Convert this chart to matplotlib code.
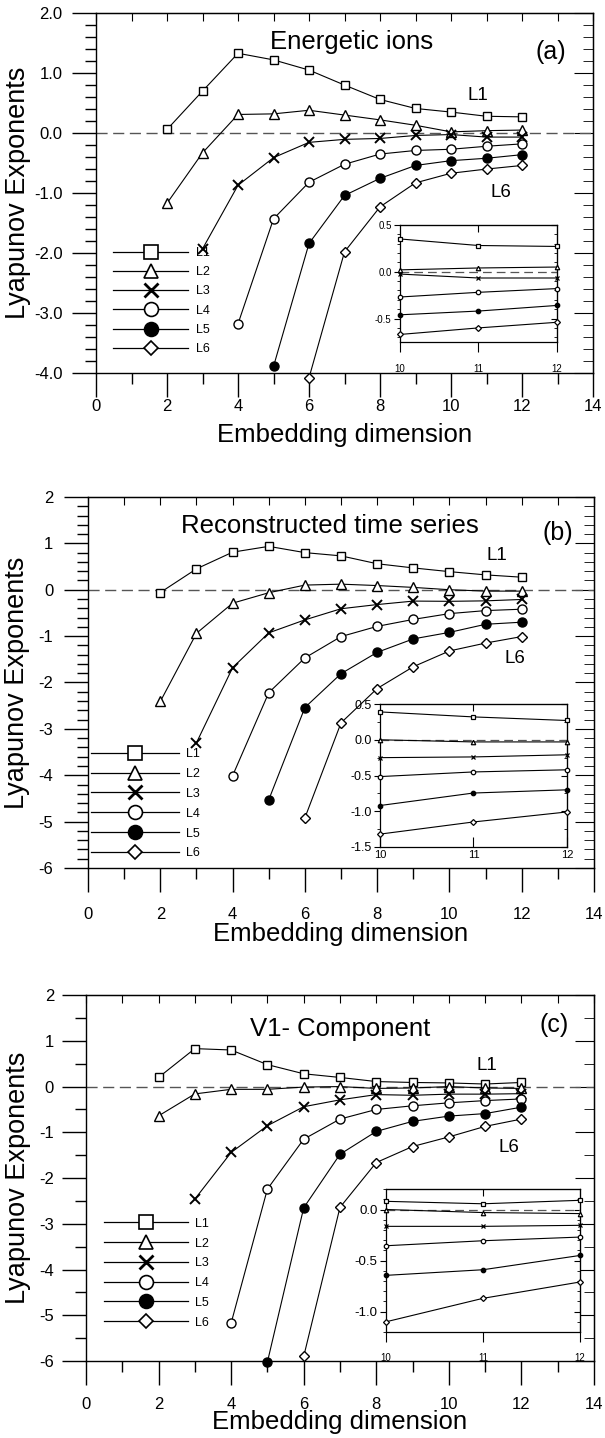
import matplotlib
matplotlib.use('Agg')
import matplotlib.pyplot as plt
from matplotlib.lines import Line2D
from matplotlib.ticker import MultipleLocator, FormatStrFormatter

plt.rcParams['font.family'] = ['Liberation Sans', 'DejaVu Sans']
plt.rcParams['axes.unicode_minus'] = False

# ─── Data: Lyapunov exponents vs embedding dimension ─────────────────────────

dims = [2, 3, 4, 5, 6, 7, 8, 9, 10, 11, 12]
names = ['L1', 'L2', 'L3', 'L4', 'L5', 'L6']

# (a) Energetic ions
a_L1 = [0.06, 0.70, 1.33, 1.22, 1.05, 0.80, 0.56, 0.41, 0.35, 0.28, 0.27]
a_L2 = [-1.17, -0.33, 0.31, 0.32, 0.38, 0.30, 0.22, 0.13, 0.02, 0.04, 0.05]
a_L3 = [-1.93, -0.87, -0.41, -0.155, -0.105, -0.09, -0.04, -0.025, -0.067, -0.067]
a_L4 = [-3.18, -1.43, -0.82, -0.52, -0.35, -0.29, -0.27, -0.22, -0.18]
a_L5 = [-3.89, -1.84, -1.04, -0.755, -0.54, -0.46, -0.42, -0.36]
a_L6 = [-4.08, -1.98, -1.23, -0.83, -0.67, -0.60, -0.54]

# (b) Reconstructed time series
b_L1 = [-0.06, 0.45, 0.81, 0.935, 0.80, 0.73, 0.56, 0.47, 0.39, 0.32, 0.27]
b_L2 = [-2.41, -0.94, -0.29, -0.065, 0.10, 0.12, 0.09, 0.05, 0.0, -0.03, -0.03]
b_L3 = [-3.30, -1.68, -0.93, -0.65, -0.41, -0.32, -0.245, -0.25, -0.24, -0.21]
b_L4 = [-4.01, -2.22, -1.47, -1.01, -0.79, -0.64, -0.515, -0.45, -0.42]
b_L5 = [-4.53, -2.54, -1.81, -1.35, -1.06, -0.92, -0.745, -0.70]
b_L6 = [-4.92, -2.87, -2.13, -1.66, -1.32, -1.15, -1.01]

# (c) V1- Component
c_L1 = [0.20, 0.83, 0.80, 0.48, 0.28, 0.20, 0.11, 0.09, 0.08, 0.056, 0.09]
c_L2 = [-0.64, -0.16, -0.06, -0.06, -0.01, 0.0, -0.04, -0.03, 0.0, -0.03, -0.04]
c_L3 = [-2.46, -1.44, -0.855, -0.44, -0.29, -0.175, -0.19, -0.165, -0.165, -0.155]
c_L4 = [-5.17, -2.24, -1.15, -0.71, -0.50, -0.42, -0.355, -0.306, -0.27]
c_L5 = [-6.02, -2.65, -1.48, -0.98, -0.76, -0.645, -0.59, -0.45]
c_L6 = [-5.90, -2.64, -1.66, -1.31, -1.10, -0.87, -0.71]

# ─── Marker styles per exponent ──────────────────────────────────────────────

marks = ['s', '^', 'x', 'o', 'o', 'D']
faces = ['white', 'white', 'black', 'white', 'black', 'white']
msize = [6, 6.5, 6.5, 6.5, 6.5, 4.6]         # main plot
lsize = [10, 10, 10, 10, 10, 7.5]           # legend
isize = [3.2, 3.2, 3.2, 3.2, 3.2, 3.0]      # inset


def series_x(vals):
    return dims[-len(vals):]                # every series ends at dimension 12


def draw_panel(rect, irect, data, ylim, yminor, yfmt, title, title_xy, tag, tag_xy,
               l1_xy, l6_xy, leg_xy, leg_len, leg_sp, ylab_x, xlab_y, xpad, ypad,
               ilim, imajor, iminor, ify, ifx, ixpad, ixdir):
    ax = fig.add_axes(rect)
    ax.axhline(0, color='#555555', lw=1, ls=(0, (8, 4)), zorder=1)
    for vals, m, fc, ms in zip(data, marks, faces, msize):
        ax.plot(series_x(vals), vals, color='black', lw=0.8, marker=m, ms=ms,
                mfc=fc, mec='black', mew=1.0 if m != 'x' else 1.4,
                clip_on=False, zorder=3)
    ax.set_xlim(0, 14)
    ax.set_ylim(*ylim)
    ax.xaxis.set_major_locator(MultipleLocator(2))
    ax.xaxis.set_minor_locator(MultipleLocator(1))
    ax.yaxis.set_major_locator(MultipleLocator(1))
    ax.yaxis.set_minor_locator(MultipleLocator(yminor))
    ax.yaxis.set_major_formatter(FormatStrFormatter(yfmt))
    ax.tick_params(which='major', direction='out', length=17, width=1,
                   labelsize=12, top=False, right=False)
    ax.tick_params(which='minor', direction='out', length=8, width=1,
                   top=False, right=False)
    ax.tick_params(axis='x', pad=xpad)
    ax.tick_params(axis='y', pad=ypad)
    for sp in ax.spines.values():
        sp.set_linewidth(1.0)
    # inward ticks on top and right
    top = ax.secondary_xaxis('top')
    top.set_xticks(range(0, 15))
    top.tick_params(direction='in', length=6, labeltop=False)
    right = ax.secondary_yaxis('right')
    right.yaxis.set_major_locator(MultipleLocator(1))
    right.yaxis.set_minor_locator(MultipleLocator(yminor))
    right.tick_params(which='major', direction='in', length=14, labelright=False)
    right.tick_params(which='minor', direction='in', length=7)

    ax.set_xlabel('Embedding dimension', fontsize=18.5)
    ax.set_ylabel('Lyapunov Exponents', fontsize=19.5)
    ax.xaxis.set_label_coords(0.5, xlab_y)
    ax.yaxis.set_label_coords(ylab_x, 0.5)

    ax.text(*title_xy, title, fontsize=18.5, ha='center', va='center')
    ax.text(*tag_xy, tag, fontsize=18, ha='center', va='center')
    ax.text(*l1_xy, 'L1', fontsize=13.5, ha='center', va='center')
    ax.text(*l6_xy, 'L6', fontsize=13.5, ha='center', va='center')

    handles = [Line2D([], [], color='black', lw=0.9, marker=m, ms=s, mfc=fc,
                      mec='black', mew=1.2 if m != 'x' else 2.0)
               for m, fc, s in zip(marks, faces, lsize)]
    ax.legend(handles, names, loc='center left', bbox_to_anchor=leg_xy,
              frameon=False, fontsize=9, handlelength=leg_len,
              handletextpad=0.6, labelspacing=leg_sp, borderpad=0,
              borderaxespad=0)

    # inset zoom on dimensions 10-12
    ins = fig.add_axes(irect)
    ins.set_facecolor('white')
    ins.axhline(0, color='#555555', lw=0.9, ls=(0, (7, 4)), zorder=1)
    for vals, m, fc, ms in zip(data, marks, faces, isize):
        ins.plot(series_x(vals)[-3:], vals[-3:], color='black', lw=0.8,
                 marker=m, ms=ms, mfc=fc, mec='black', mew=0.9, clip_on=False,
                 zorder=3)
    ins.set_xlim(10, 12)
    ins.set_ylim(*ilim)
    ins.set_xticks([10, 11, 12])
    ins.yaxis.set_major_locator(MultipleLocator(imajor))
    ins.yaxis.set_minor_locator(MultipleLocator(iminor))
    ins.yaxis.set_major_formatter(FormatStrFormatter('%.1f'))
    ins.tick_params(axis='y', which='major', direction='out', length=4,
                    labelsize=ify, pad=2)
    ins.tick_params(axis='y', which='minor', direction='out', length=2)
    ins.tick_params(axis='x', direction=ixdir, length=7, labelsize=ifx,
                    pad=ixpad)
    for sp in ins.spines.values():
        sp.set_linewidth(0.9)
    itop = ins.secondary_xaxis('top')
    itop.set_xticks([11])
    itop.tick_params(direction='in', length=5, labeltop=False)
    iright = ins.secondary_yaxis('right')
    iright.yaxis.set_major_locator(MultipleLocator(imajor))
    iright.yaxis.set_minor_locator(MultipleLocator(iminor))
    iright.tick_params(which='major', direction='in', length=4, labelright=False)
    iright.tick_params(which='minor', direction='in', length=2)
    return ax, ins


# ─── Figure ──────────────────────────────────────────────────────────────────

fig = plt.figure(figsize=(6.05, 14.38), dpi=100)

draw_panel([0.1587, 0.7406, 0.8215, 0.2503], [0.661, 0.7622, 0.2595, 0.0814],
           [a_L1, a_L2, a_L3, a_L4, a_L5, a_L6], (-4, 2), 0.2, '%.1f',
           'Energetic ions', (7.2, 1.52), '(a)', (12.8, 1.35),
           (10.75, 0.62), (11.4, -0.99), (0.035, 0.2), 6.0, 0.58,
           -0.131, -0.14, 2, 7, (-0.75, 0.5), 0.5, 0.1, 7, 7, 9, 'out')

draw_panel([0.1455, 0.3964, 0.8364, 0.258], [0.628, 0.411, 0.309, 0.0994],
           [b_L1, b_L2, b_L3, b_L4, b_L5, b_L6], (-6, 2), 0.2, '%d',
           'Reconstructed time series', (6.7, 1.37), '(b)', (13.0, 1.23),
           (11.3, 0.74), (11.8, -1.49), (0.006, 0.173), 7.0, 0.63,
           -0.115, -0.145, 11, 8, (-1.5, 0.5), 0.5, 0.25, 9, 8, 2, 'in')

draw_panel([0.1421, 0.0535, 0.8397, 0.2545], [0.638, 0.0737, 0.3207, 0.0994],
           [c_L1, c_L2, c_L3, c_L4, c_L5, c_L6], (-6, 2), 0.5, '%d',
           'V1- Component', (7.0, 1.26), '(c)', (12.9, 1.34),
           (11.05, 0.46), (11.65, -1.33), (0.035, 0.24), 6.7, 0.62,
           -0.108, -0.135, 9, 6, (-1.2, 0.2), 0.5, 0.1, 9.5, 7, 8, 'out')

fig.savefig('out.png', dpi=100)
